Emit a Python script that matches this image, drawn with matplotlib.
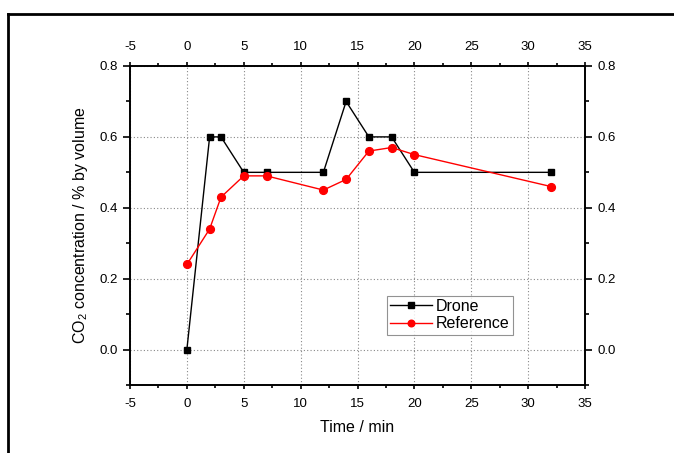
import matplotlib
matplotlib.use("Agg")
import matplotlib.pyplot as plt
from matplotlib.ticker import MultipleLocator, FormatStrFormatter
from matplotlib.lines import Line2D

plt.rcParams['font.family'] = ['Liberation Sans', 'DejaVu Sans']
plt.rcParams['axes.unicode_minus'] = False
plt.rcParams['mathtext.fontset'] = 'custom'
plt.rcParams['mathtext.rm'] = 'Liberation Sans'
plt.rcParams['mathtext.it'] = 'Liberation Sans'

time = [0, 2, 3, 5, 7, 12, 14, 16, 18, 20, 32]
drone = [0.0, 0.6, 0.6, 0.5, 0.5, 0.5, 0.7, 0.6, 0.6, 0.5, 0.5]
reference = [0.24, 0.34, 0.43, 0.49, 0.49, 0.45, 0.48, 0.56, 0.57, 0.55, 0.46]

W, H = 674, 453
fig = plt.figure(figsize=(W / 100, H / 100), dpi=100)
ax = fig.add_axes([130 / W, 1 - 385 / H, 455 / W, 319 / H])

ax.plot(time, drone, color='black', lw=1.0, marker='s', markersize=5,
        markeredgecolor='black', markerfacecolor='black', label='Drone', zorder=3)
ax.plot(time, reference, color='red', lw=1.0, marker='o', markersize=5.6,
        markeredgecolor='red', markerfacecolor='red', label='Reference', zorder=3)

ax.set_xlim(-5, 35)
ax.set_ylim(-0.1, 0.8)
ax.xaxis.set_major_locator(MultipleLocator(5))
ax.xaxis.set_minor_locator(MultipleLocator(2.5))
ax.yaxis.set_major_locator(MultipleLocator(0.2))
ax.yaxis.set_minor_locator(MultipleLocator(0.1))
ax.yaxis.set_major_formatter(FormatStrFormatter('%.1f'))

ax.grid(True, which='major', color='#888888', linestyle=(0, (1, 2)), lw=0.8)
ax.tick_params(which='both', direction='out', top=True, right=True,
               labeltop=True, labelright=True, width=1.2)
ax.tick_params(axis='x', which='major', length=3.2, labelsize=9.5, pad=6)
ax.tick_params(axis='x', which='minor', length=2)
ax.tick_params(axis='y', which='major', length=5.3, labelsize=9.5, pad=3.5)
ax.tick_params(axis='y', which='minor', length=3)
for sp in ax.spines.values():
    sp.set_linewidth(1.4)

ax.set_xlabel('Time / min', fontsize=11.5, labelpad=7)
ax.set_ylabel('CO$_2$ concentration / % by volume', fontsize=11.5, labelpad=7)

leg = ax.legend(loc='lower left', bbox_to_anchor=(0.565, 0.158), fontsize=11.5,
                frameon=True, fancybox=False, edgecolor='#777777',
                handlelength=2.6, handletextpad=0.25, borderpad=0.2,
                labelspacing=0.15, borderaxespad=0, markerscale=0.85)
leg.get_frame().set_linewidth(0.8)

# outer frame (partially visible)
fig.add_artist(Line2D([8.2 / W, 8.2 / W], [0, 1 - 14.3 / H], transform=fig.transFigure,
                      color='black', lw=2.0))
fig.add_artist(Line2D([7.5 / W, 1], [1 - 14.3 / H, 1 - 14.3 / H], transform=fig.transFigure,
                      color='black', lw=2.0))

fig.savefig('out.png', dpi=100)
